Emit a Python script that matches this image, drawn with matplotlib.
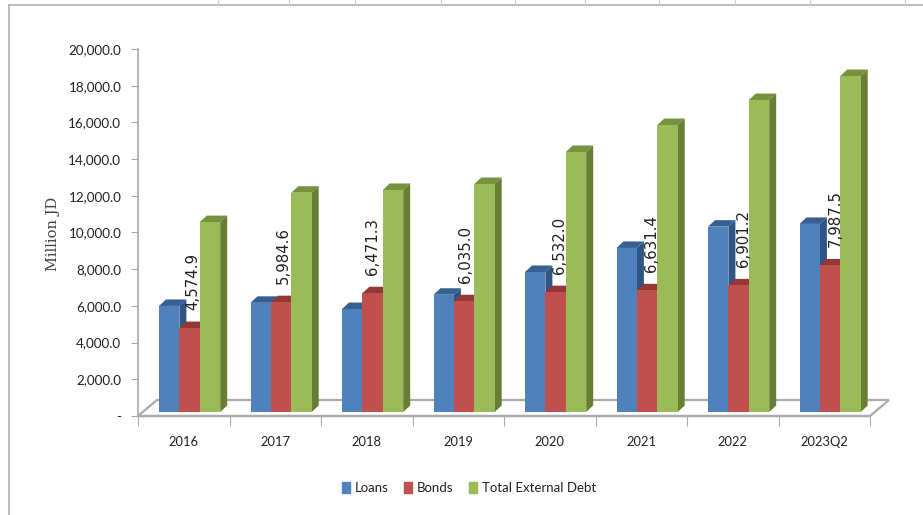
import matplotlib
matplotlib.use("Agg")
import matplotlib.pyplot as plt
from matplotlib.patches import Polygon, Patch
from matplotlib.lines import Line2D
import numpy as np

W, H = 923, 515

categories = ["2016", "2017", "2018", "2019", "2020", "2021", "2022", "2023Q2"]
loans = [5780, 5950, 5610, 6390, 7630, 8940, 10100, 10250]
bonds = [4574.9, 5984.6, 6471.3, 6035.0, 6532.0, 6631.4, 6901.2, 7987.5]
total = [10350, 11950, 12100, 12425, 14170, 15640, 17000, 18310]
bond_labels = ["4,574.9", "5,984.6", "6,471.3", "6,035.0", "6,532.0", "6,631.4", "6,901.2", "7,987.5"]
y_ticks = [0, 2000, 4000, 6000, 8000, 10000, 12000, 14000, 16000, 18000, 20000]

# the data labels are not centred on the bars, nudge each one (pixels)
label_nudge = [3, 2, 0, 1, 3.5, 4.5, 5, 5]

colors = ["#4F81BD", "#C0504D", "#9BBB59"]
tops = ["#376092", "#953735", "#76923C"]
sides = ["#2F5585", "#7F2E2C", "#667F35"]
grey = "#ABABAB"

fig = plt.figure(figsize=(W / 100, H / 100), dpi=100)
ax = fig.add_axes([138 / W, 1 - 416 / H, (870 - 138) / W, (416 - 49) / H])
ax.set_xlim(0, len(categories))
ax.set_ylim(0, 20000)

# pixel -> data scale of the axes
px_x = len(categories) / (870 - 138)
px_y = 20000 / (416 - 49)

bar_w = 20.4 * px_x
depth_x = 7 * px_x
depth_y = 6.5 * px_y
base = 4 * px_y

# floor of the 3d box
floor_dx = 19 * px_x
floor_dy = 16 * px_y
n = len(categories)
ax.add_patch(Polygon([(0, 0), (n, 0), (n + floor_dx, floor_dy), (floor_dx, floor_dy)],
                     closed=True, fc="white", ec=grey, lw=1.6, clip_on=False, zorder=1))


def bar3d(x, v, i):
    ax.bar(x, v, bar_w, bottom=base, align="edge", color=colors[i], lw=0, zorder=3)
    t = base + v
    ax.add_patch(Polygon([(x, t), (x + bar_w, t), (x + bar_w + depth_x, t + depth_y), (x + depth_x, t + depth_y)],
                         closed=True, fc=tops[i], ec="none", zorder=2.5, clip_on=False))
    ax.add_patch(Polygon([(x + bar_w, base), (x + bar_w + depth_x, base + depth_y), (x + bar_w + depth_x, t + depth_y), (x + bar_w, t)],
                         closed=True, fc=sides[i], ec="none", zorder=2.5, clip_on=False))


start = 21 * px_x
for k in range(n):
    x0 = k + start
    bar3d(x0, loans[k], 0)
    bar3d(x0 + bar_w, bonds[k], 1)
    bar3d(x0 + 2 * bar_w, total[k], 2)
    ax.text(x0 + 1.5 * bar_w + label_nudge[k] * px_x, base + bonds[k] + 18 * px_y, bond_labels[k], rotation=90,
            ha="center", va="bottom", fontsize=10.8, family="DejaVu Sans", color="#222222", zorder=5)

for s in ["top", "right"]:
    ax.spines[s].set_visible(False)
ax.spines["left"].set_color(grey)
ax.spines["left"].set_linewidth(1.2)
ax.spines["bottom"].set_color(grey)
ax.spines["bottom"].set_linewidth(1.6)

ax.set_yticks(y_ticks)
ax.set_yticklabels(["-" if v == 0 else f"{v:,.1f}" for v in y_ticks], fontsize=9.7, family="Lato", color="#222222")
ax.set_xticks(range(n + 1))
ax.set_xticklabels([""] * (n + 1))
ax.tick_params(axis="y", length=5, color=grey, pad=7)
ax.tick_params(axis="x", length=7, color=grey)
for k, c in enumerate(categories):
    ax.text(k + 0.5, -1417, c, ha="center", va="center", fontsize=9.3, family="Lato", color="#222222")

fig.text(53 / W, 1 - 234 / H, "Million JD", rotation=90, ha="center", va="center",
         fontsize=10.5, family="DejaVu Serif", color="#444444")

handles = [Patch(color=c) for c in colors]
fig.legend(handles, ["Loans", "Bonds", "Total External Debt"], loc="center", bbox_to_anchor=(469 / W, 1 - 488 / H),
           ncol=3, frameon=False, prop={"family": "Lato", "size": 9.5}, handlelength=0.6, handleheight=0.9,
           handletextpad=0.4, columnspacing=1.15, labelcolor="#222222")

# sheet border behind the chart
fig.add_artist(Line2D([9 / W, 1], [1 - 5 / H, 1 - 5 / H], color="#B0B0B0", lw=1.2))
fig.add_artist(Line2D([9 / W, 9 / W], [0, 1 - 5 / H], color="#B0B0B0", lw=1.2))
for gx in [218, 289, 355, 441, 515, 585, 659, 735, 810, 905]:
    fig.add_artist(Line2D([gx / W, gx / W], [1 - 5 / H, 1], color="#D0D0D0", lw=0.8))

fig.savefig("out.png", dpi=100)
